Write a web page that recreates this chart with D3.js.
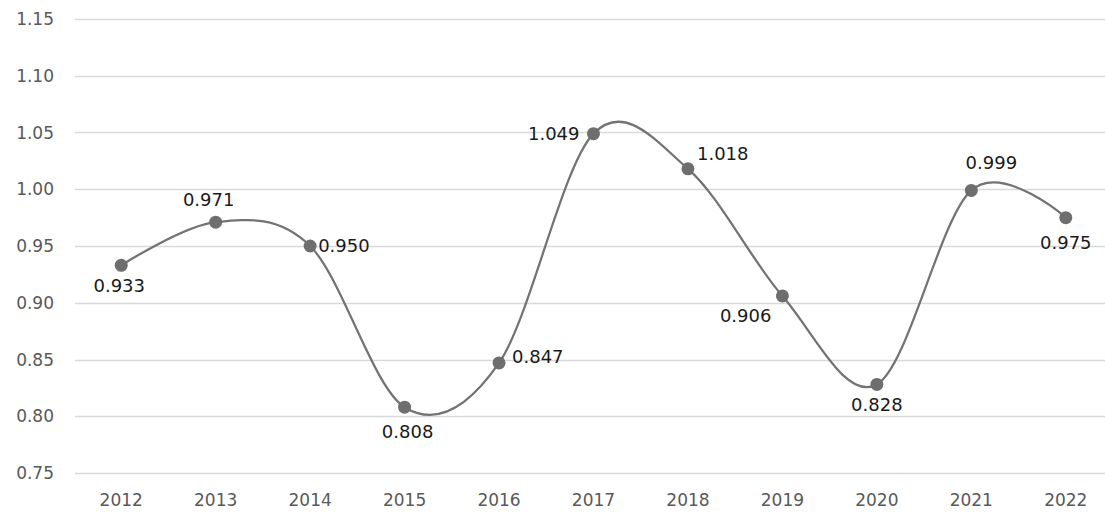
<!DOCTYPE html>
<html>
<head>
<meta charset="utf-8">
<script src="https://cdn.jsdelivr.net/npm/d3@7"></script>
<style>
  body { margin: 0; background: #fff; }
  text { font-family: "DejaVu Sans", sans-serif; }
</style>
</head>
<body>
<script>
// data
var years = ["2012","2013","2014","2015","2016","2017","2018","2019","2020","2021","2022"];
var values = [0.933, 0.971, 0.950, 0.808, 0.847, 1.049, 1.018, 0.906, 0.828, 0.999, 0.975];
var yTicks = [0.75, 0.80, 0.85, 0.90, 0.95, 1.00, 1.05, 1.10, 1.15];
// label placement per point: [dx, dy, anchor]
var labelPos = [
  [-2, 27, "middle"], [-7, -16, "middle"], [8, 6, "start"], [3, 31, "middle"],
  [13, 0, "start"], [-14, 6, "end"], [9, -9, "start"], [-11, 26, "end"],
  [0, 27, "middle"], [20, -21, "middle"], [0, 31, "middle"]
];

var w = 1105, h = 513;

var svg = d3.select("body").append("svg")
  .attr("width", w)
  .attr("height", h);

var x = d3.scalePoint().domain(years).range([74, 1113]).padding(0.5);
var y = d3.scaleLinear().domain([0.75, 1.15]).range([473, 19]);

// gridlines
svg.selectAll("line.grid")
  .data(yTicks)
  .enter()
  .append("line")
  .attr("class", "grid")
  .attr("x1", 75)
  .attr("x2", w)
  .attr("y1", function(d) { return Math.round(y(d)) + 0.5; })
  .attr("y2", function(d) { return Math.round(y(d)) + 0.5; })
  .attr("stroke", "#d9d9d9")
  .attr("stroke-width", 1.5);

// y tick labels
svg.selectAll("text.ytick")
  .data(yTicks)
  .enter()
  .append("text")
  .attr("class", "ytick")
  .attr("x", 54)
  .attr("y", function(d) { return y(d) + 6; })
  .attr("text-anchor", "end")
  .attr("font-size", 17)
  .attr("fill", "#595959")
  .text(function(d) { return d.toFixed(2); });

// x labels
svg.selectAll("text.xtick")
  .data(years)
  .enter()
  .append("text")
  .attr("class", "xtick")
  .attr("x", function(d) { return x(d); })
  .attr("y", 506)
  .attr("text-anchor", "middle")
  .attr("font-size", 17)
  .attr("fill", "#595959")
  .text(function(d) { return d; });

// smooth line
var line = d3.line()
  .x(function(d, i) { return x(years[i]); })
  .y(function(d) { return y(d); })
  .curve(d3.curveCardinal.tension(0));

svg.append("path")
  .datum(values)
  .attr("d", line)
  .attr("fill", "none")
  .attr("stroke", "#737373")
  .attr("stroke-width", 2.25);

// markers
svg.selectAll("circle")
  .data(values)
  .enter()
  .append("circle")
  .attr("cx", function(d, i) { return x(years[i]); })
  .attr("cy", function(d) { return y(d); })
  .attr("r", 6.5)
  .attr("fill", "#6e6e6e");

// data labels
svg.selectAll("text.val")
  .data(values)
  .enter()
  .append("text")
  .attr("class", "val")
  .attr("x", function(d, i) { return x(years[i]) + labelPos[i][0]; })
  .attr("y", function(d, i) { return y(d) + labelPos[i][1]; })
  .attr("text-anchor", function(d, i) { return labelPos[i][2]; })
  .attr("font-size", 18)
  .attr("fill", "#1a1a1a")
  .text(function(d) { return d.toFixed(3); });
</script>
</body>
</html>
